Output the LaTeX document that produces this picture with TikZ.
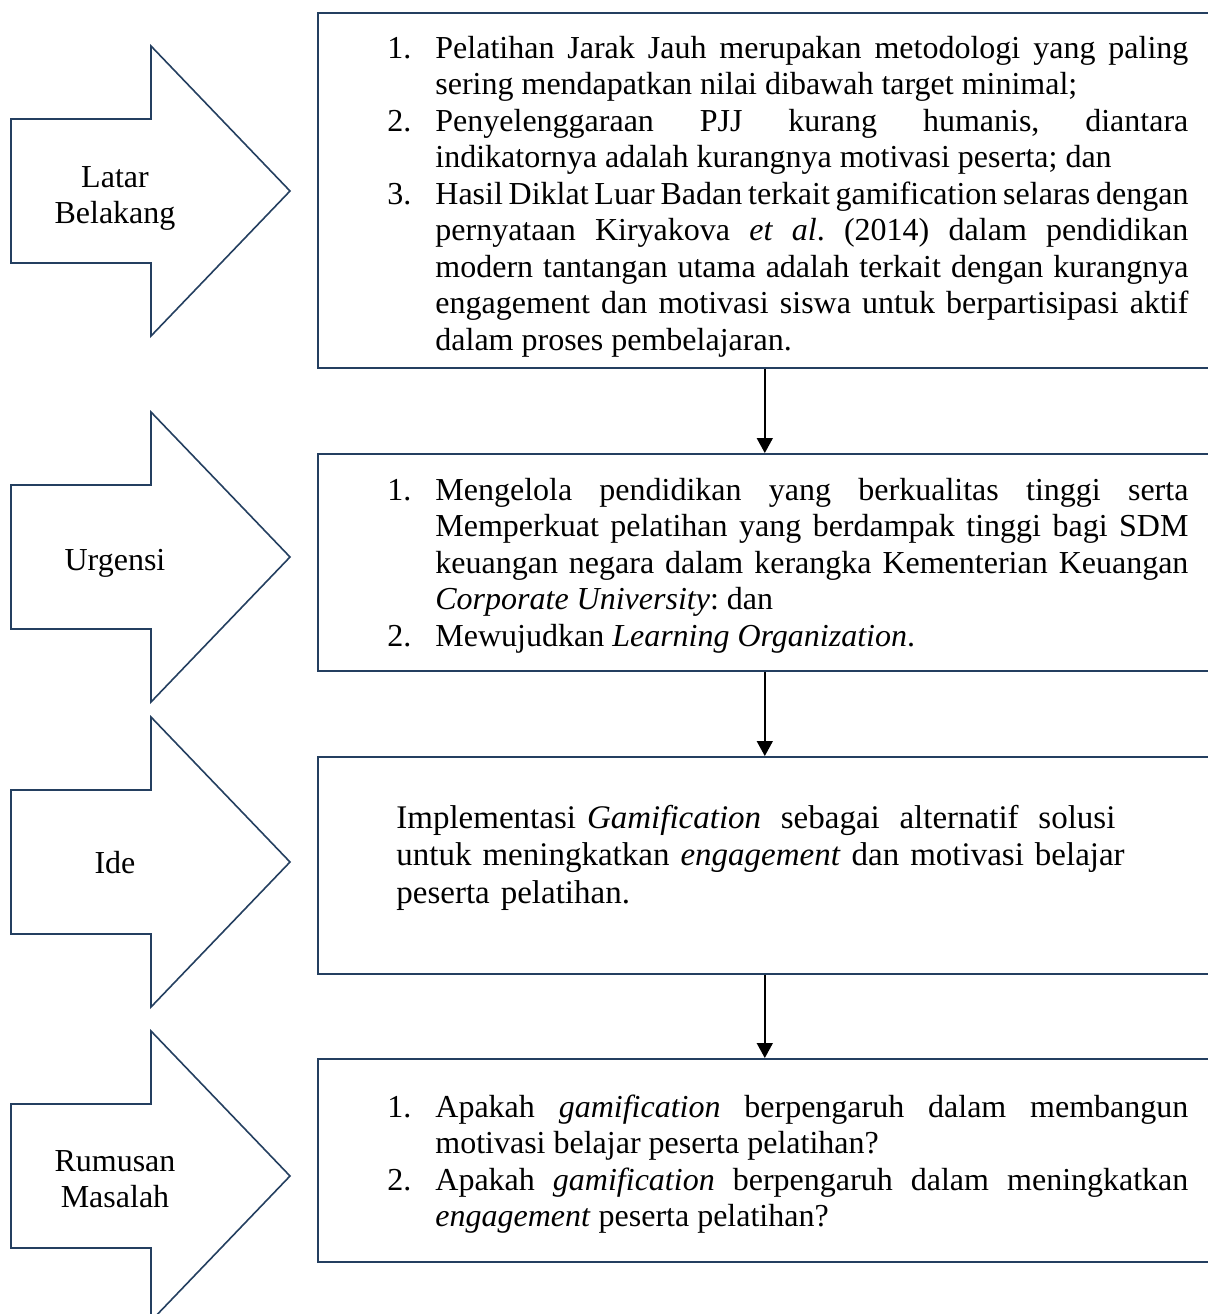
\documentclass[tikz,border=0pt]{standalone}
\usepackage{fontspec}
\setmainfont{Liberation Serif}
\usetikzlibrary{arrows.meta}

\definecolor{framecol}{RGB}{36,63,96}

% paragraph settings for the justified panels
\tolerance=10000
\hbadness=10000
\hyphenpenalty=10000
\exhyphenpenalty=10000
\frenchspacing

% word spacing with some room to shrink in justified lines
\newcommand{\setspaces}{\spaceskip=4pt plus 2.5pt minus 2pt\relax}
% invisible strut fixing the height of a block's first line
\newcommand{\firstrow}{\rule{0pt}{15pt}}
% numbered paragraph with a hanging indent
\newcommand{\numpar}[2]{\noindent\hangindent=24pt\hangafter=1\makebox[24pt][l]{#1}#2\par}
% block arrow pointing right, centred vertically on #1
\newcommand{\sidearrow}[1]{%
  \draw[bigarrow] (11,#1-72) -- (151,#1-72) -- (151,#1-145) -- (290,#1)
    -- (151,#1+145) -- (151,#1+72) -- (11,#1+72) -- cycle;}

\begin{document}
\begin{tikzpicture}[x=0.5pt,y=-0.5pt,
  bigarrow/.style={draw=framecol, line width=0.8pt, line join=miter, fill=white},
  panel/.style={draw=framecol, line width=0.8pt, inner sep=0pt, anchor=north west,
    minimum width=447pt},
  conn/.style={draw=black, line width=0.8pt, -{Triangle[width=8pt,length=7.5pt]}},
  textblock/.style={anchor=north west, inner sep=0pt, text width=400.5pt, align=justify,
    font=\fontsize{16pt}{18.25pt}\selectfont, execute at begin node=\setspaces},
  ideablock/.style={anchor=north west, inner sep=0pt, text width=380pt, align=left,
    font=\fontsize{16.5pt}{18.75pt}\selectfont},
  tag/.style={inner sep=0pt, align=center, font=\fontsize{16pt}{18pt}\selectfont}]

\useasboundingbox (0,0) rectangle (1208,1314);
\fill[white] (0,0) rectangle (1208,1314);
\clip (0,0) rectangle (1208,1314);

% block arrows on the left
\sidearrow{191}
\sidearrow{557}
\sidearrow{862}
\sidearrow{1176}

\node[tag] (lb) at (115,198.5) {Latar\\Belakang};
\node[tag] (ur) at (115,563.5) {Urgensi};
\node[tag] (id) at (115,863) {Ide};
\node[tag] (rm) at (115,1179.5) {Rumusan\\Masalah};

% panels
\node[panel, minimum height=177.5pt] (p1) at (317,12) {};
\node[panel, minimum height=108.5pt] (p2) at (317,453) {};
\node[panel, minimum height=108.5pt] (p3) at (317,756) {};
\node[panel, minimum height=101.5pt] (p4) at (317,1058) {};

\draw[conn] (p1.south) -- (p2.north);
\draw[conn] (p2.south) -- (p3.north);
\draw[conn] (p3.south) -- (p4.north);

% panel texts
\node[textblock] (t1) at (387,28) {%
\numpar{1.}{\firstrow Pelatihan Jarak Jauh merupakan metodologi yang paling\linebreak
sering mendapatkan nilai dibawah target minimal;}%
\numpar{2.}{Penyelenggaraan PJJ kurang humanis, diantara\linebreak
indikatornya adalah kurangnya motivasi peserta; dan}%
\numpar{3.}{Hasil Diklat Luar Badan terkait gamification selaras dengan\linebreak
pernyataan Kiryakova \textit{et al}. (2014) dalam pendidikan\linebreak
modern tantangan utama adalah terkait dengan kurangnya\linebreak
engagement dan motivasi siswa untuk berpartisipasi aktif\linebreak
dalam proses pembelajaran.}};

\node[textblock] (t2) at (387,470) {%
\numpar{1.}{\firstrow Mengelola pendidikan yang berkualitas tinggi serta\linebreak
Memperkuat pelatihan yang berdampak tinggi bagi SDM\linebreak
keuangan negara dalam kerangka Kementerian Keuangan\linebreak
\textit{Corporate University}: dan}%
\numpar{2.}{Mewujudkan \textit{Learning Organization}.}};

\node[ideablock] (t3) at (396,798) {%
\firstrow\makebox[359.5pt][s]{Implementasi \textit{Gamification} \hfill sebagai \hfill alternatif \hfill solusi}\\
\makebox[363.5pt][s]{untuk \hfill meningkatkan \textit{engagement} dan motivasi belajar}\\
peserta pelatihan.};

\node[textblock] (t4) at (387,1087) {%
\numpar{1.}{\firstrow Apakah \textit{gamification} berpengaruh dalam membangun\linebreak
motivasi belajar peserta pelatihan?}%
\numpar{2.}{Apakah \textit{gamification} berpengaruh dalam meningkatkan\linebreak
\textit{engagement} peserta pelatihan?}};

\end{tikzpicture}
\end{document}
